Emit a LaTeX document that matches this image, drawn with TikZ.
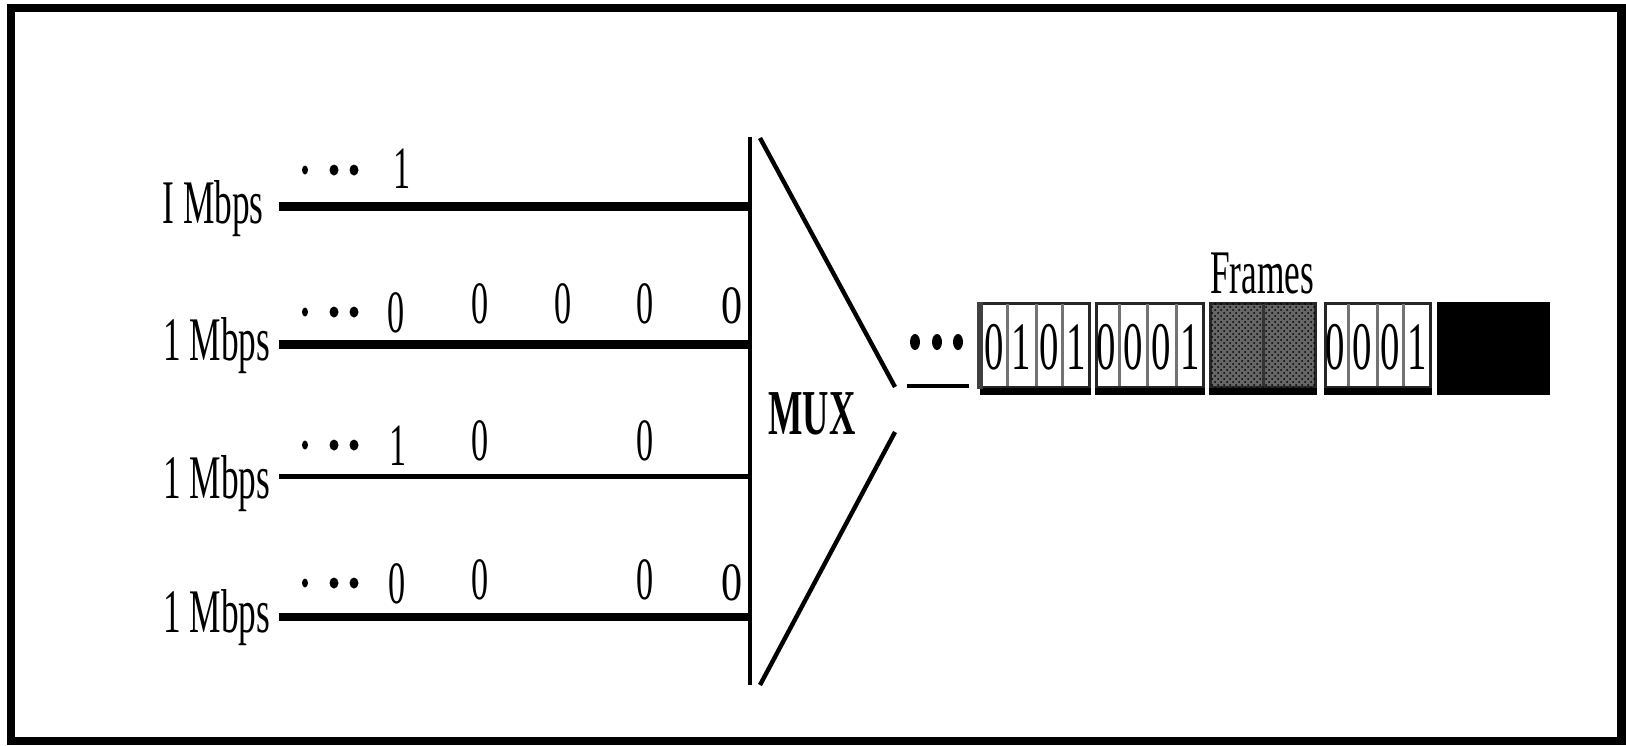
\documentclass[tikz,border=0pt]{standalone}
\usepackage{fontspec}
\setmainfont{Liberation Serif}
\usetikzlibrary{patterns}
% narrow, tall lettering used throughout the drawing
\newcommand{\narrowtxt}[1]{\scalebox{0.57}[1]{#1}}

\begin{document}
\begin{tikzpicture}[x=0.5pt,y=-0.5pt,
  ratelabel/.style={font=\fontsize{31}{31}\selectfont, inner sep=0pt, anchor=base west},
  bit/.style={font=\fontsize{30}{30}\selectfont, inner sep=0pt, anchor=base},
  widebit/.style={font=\fontsize{27}{27}\selectfont, inner sep=0pt, anchor=base},
  framebit/.style={font=\fontsize{34}{34}\selectfont, inner sep=0pt, anchor=base},
  muxline/.style={line width=2.2pt, line cap=butt},
  dotsmall/.style={fill=black, draw=none},
  framebox/.style={draw=black!85, line width=1.5pt, fill=white, inner sep=0pt,
                   minimum height=84*0.5pt},
  celldiv/.style={draw=black!55, line width=1.5pt},
]
\useasboundingbox (0,0) rectangle (1626,745);

% outer border
\draw[line width=4.25pt] (11,8) rectangle (1621.5,741);

% multiplexer body
\coordinate (bartop) at (750,137);
\coordinate (barbot) at (750,685);
\coordinate (tritop) at (760,138);
\coordinate (apexA) at (895,387);
\coordinate (apexB) at (895,432);
\coordinate (tribot) at (760,685);
\draw[muxline] (bartop) -- (barbot);
\draw[muxline] (tritop) -- (apexA);
\draw[muxline] (apexB) -- (tribot);
\node (mux) at (812,414) {\fontsize{32}{32}\selectfont\bfseries\narrowtxt{MUX}};

% input lines
\coordinate (s1) at (279,206.5); \coordinate (e1) at (750,206.5);
\coordinate (s2) at (279,344.5); \coordinate (e2) at (750,344.5);
\coordinate (s3) at (279,476.5); \coordinate (e3) at (750,476.5);
\coordinate (s4) at (279,617);   \coordinate (e4) at (750,617);
\draw[line width=4.5pt] (s1) -- (e1);
\draw[line width=4.5pt] (s2) -- (e2);
\draw[line width=2.6pt] (s3) -- (e3);
\draw[line width=4pt]   (s4) -- (e4);

% rate labels
\node[ratelabel] (r1) at (162,223) {\narrowtxt{I Mbps}};
\node[ratelabel] (r2) at (163,360) {\narrowtxt{1 Mbps}};
\node[ratelabel] (r3) at (163,498) {\narrowtxt{1 Mbps}};
\node[ratelabel] (r4) at (163,632) {\narrowtxt{1 Mbps}};

% leading dots on each line
\foreach \yy in {170,312,445,583} {
  \fill[dotsmall] (305,\yy) ellipse [x radius=3, y radius=4.5];
  \fill[dotsmall] (334,\yy) ellipse [x radius=4.5, y radius=5.5];
  \fill[dotsmall] (354,\yy) ellipse [x radius=4.5, y radius=5.5];
}

% bits on line 1
\node[bit] (b11) at (402,188) {\narrowtxt{1}};
% bits on line 2
\node[bit] (b21) at (396,332) {\narrowtxt{0}};
\node[bit] (b22) at (480,323) {\narrowtxt{0}};
\node[bit] (b23) at (563,323) {\narrowtxt{0}};
\node[bit] (b24) at (645,323) {\narrowtxt{0}};
\node[widebit] (b25) at (732,323) {\scalebox{0.78}[1]{0}};
% bits on line 3
\node[bit] (b31) at (398,465) {\narrowtxt{1}};
\node[bit] (b32) at (480,460) {\narrowtxt{0}};
\node[bit] (b33) at (645,460) {\narrowtxt{0}};
% bits on line 4
\node[bit] (b41) at (397,603) {\narrowtxt{0}};
\node[bit] (b42) at (480,599) {\narrowtxt{0}};
\node[bit] (b43) at (645,599) {\narrowtxt{0}};
\node[widebit] (b44) at (732,600) {\scalebox{0.78}[1]{0}};

% output side
\foreach \xx in {915,937,958}
  \fill[dotsmall] (\xx,342) ellipse [x radius=5, y radius=8];
\coordinate (o1) at (907,386);
\coordinate (o2) at (969,386);
\draw[line width=2pt] (o1) -- (o2);

\node[font=\fontsize{31}{31}\selectfont, inner sep=0pt, anchor=base] (flabel) at (1262,293) {\narrowtxt{Frames}};

% frames
\node[framebox, minimum width=108*0.5pt] (f1) at (1035,345) {};
\node[framebox, minimum width=107*0.5pt] (f2) at (1149.5,345) {};
\node[framebox, minimum width=105*0.5pt, fill=black!60,
      postaction={pattern=crosshatch dots, pattern color=black}] (f3) at (1262.5,345) {};
\node[framebox, minimum width=105*0.5pt] (f4) at (1377.5,345) {};
\node[framebox, minimum width=110*0.5pt, fill=black, draw=black] (f5) at (1493,345) {};
\foreach \f in {f1,f2,f3,f4,f5}
  \draw[line width=3.5pt] ([yshift=-1.5pt]\f.south west) -- ([yshift=-1.5pt]\f.south east);
\draw[line width=3pt, draw=black!75] (f1.north west) -- (f1.south west);

% cell dividers
\foreach \xx in {1007,1036,1062,1119,1147,1176,1348,1377,1403}
  \draw[celldiv] (\xx,304) -- (\xx,386);
\draw[celldiv, draw=black!80] (1263,304) -- (1263,386);

% bits carried in the frames
\node[framebit] at (994,369)  {\narrowtxt{0}};
\node[framebit] at (1021,369) {\narrowtxt{1}};
\node[framebit] at (1049,369) {\narrowtxt{0}};
\node[framebit] at (1076,369) {\narrowtxt{1}};
\node[framebit] at (1106,369) {\narrowtxt{0}};
\node[framebit] at (1133,369) {\narrowtxt{0}};
\node[framebit] at (1161,369) {\narrowtxt{0}};
\node[framebit] at (1190,369) {\narrowtxt{1}};
\node[framebit] at (1335,369) {\narrowtxt{0}};
\node[framebit] at (1362,369) {\narrowtxt{0}};
\node[framebit] at (1390,369) {\narrowtxt{0}};
\node[framebit] at (1417,369) {\narrowtxt{1}};
\end{tikzpicture}
\end{document}
